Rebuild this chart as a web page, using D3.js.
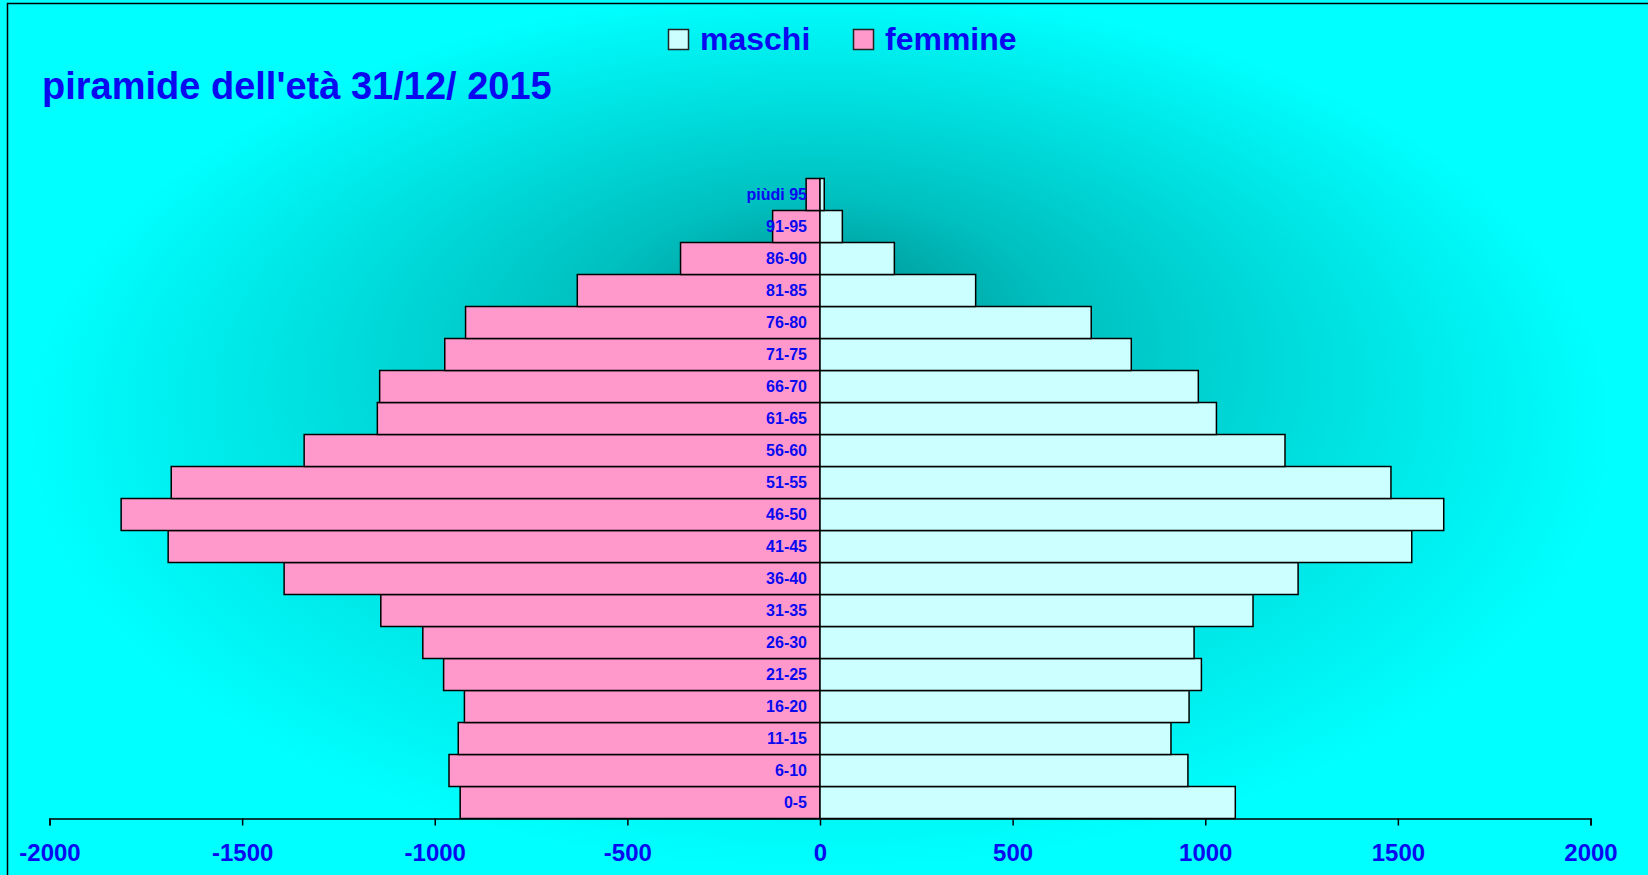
<!DOCTYPE html>
<html>
<head>
<meta charset="utf-8">
<script src="https://cdn.jsdelivr.net/npm/d3@7"></script>
<style>
  html, body { margin: 0; padding: 0; background: #00ffff; }
  svg { display: block; }
</style>
</head>
<body>
<div id="chart"></div>
<script>
// data (age groups bottom to top)
const ageGroups = ["0-5", "6-10", "11-15", "16-20", "21-25", "26-30", "31-35", "36-40",
  "41-45", "46-50", "51-55", "56-60", "61-65", "66-70", "71-75", "76-80",
  "81-85", "86-90", "91-95", "piùdi 95"];
const males = [1078, 955, 911, 958, 990, 971, 1124, 1241, 1536, 1619,
  1482, 1207, 1029, 982, 808, 704, 404, 193, 58, 11];
const females = [934, 963, 939, 923, 977, 1031, 1140, 1391, 1692, 1814,
  1684, 1339, 1149, 1143, 974, 920, 630, 362, 123, 36];
const xTicks = [-2000, -1500, -1000, -500, 0, 500, 1000, 1500, 2000];
const seriesNames = ["maschi", "femmine"];

// layout
const W = 1648, H = 875;
const PLOT = { left: 49.5, right: 1590.5, top: 178.5, bottom: 818.5 };
const BLUE = "#0a0af0";
const FONT = "'Liberation Sans', Arial, sans-serif";
const COLORS = { maschi: "#ccffff", femmine: "#ff99cc" };

const svg = d3.select("#chart").append("svg")
  .attr("width", W).attr("height", H);

// background gradient, dark teal around the top of the pyramid
const defs = svg.append("defs");
const grad = defs.append("radialGradient")
  .attr("id", "bg")
  .attr("gradientUnits", "userSpaceOnUse")
  .attr("cx", 820).attr("cy", 430).attr("r", 440)
  .attr("fx", 820).attr("fy", 285)
  .attr("gradientTransform", "translate(820,430) scale(1.8,1) translate(-820,-430)");
grad.append("stop").attr("offset", 0).attr("stop-color", "#009595");
grad.append("stop").attr("offset", 0.3).attr("stop-color", "#00c0c0");
grad.append("stop").attr("offset", 0.68).attr("stop-color", "#00e3e3");
grad.append("stop").attr("offset", 1).attr("stop-color", "#00ffff");

svg.append("rect").attr("width", W).attr("height", H).attr("fill", "#00ffff");
svg.append("rect").attr("width", W).attr("height", H).attr("fill", "url(#bg)");

// chart frame
svg.append("rect")
  .attr("x", 7.5).attr("y", 3.5)
  .attr("width", W + 20).attr("height", H + 20)
  .attr("fill", "none").attr("stroke", "#000").attr("stroke-width", 1.5);

// scales
const x = d3.scaleLinear().domain([-2000, 2000]).range([PLOT.left, PLOT.right]);
const y = d3.scaleBand().domain(ageGroups).range([PLOT.bottom, PLOT.top]).padding(0);

// bars
const rows = ageGroups.map((g, i) => ({ g, m: males[i], f: females[i] }));

svg.append("g").selectAll("rect")
  .data(rows)
  .join("rect")
  .attr("x", (d) => x(-d.f))
  .attr("y", (d) => y(d.g))
  .attr("width", (d) => x(0) - x(-d.f))
  .attr("height", y.bandwidth())
  .attr("fill", COLORS.femmine)
  .attr("stroke", "#000").attr("stroke-width", 1.5);

svg.append("g").selectAll("rect")
  .data(rows)
  .join("rect")
  .attr("x", x(0))
  .attr("y", (d) => y(d.g))
  .attr("width", (d) => x(d.m) - x(0))
  .attr("height", y.bandwidth())
  .attr("fill", COLORS.maschi)
  .attr("stroke", "#000").attr("stroke-width", 1.5);

// category labels, right aligned just left of zero
svg.append("g").selectAll("text")
  .data(ageGroups)
  .join("text")
  .attr("x", x(0) - 13)
  .attr("y", (d) => y(d) + y.bandwidth() / 2)
  .attr("dy", "0.36em")
  .attr("text-anchor", "end")
  .attr("font-family", FONT).attr("font-weight", "bold").attr("font-size", 16)
  .attr("fill", BLUE)
  .text((d) => d);

// x axis
const axis = svg.append("g")
  .attr("transform", `translate(0,${PLOT.bottom})`)
  .call(d3.axisBottom(x).tickValues(xTicks).tickSize(7).tickSizeOuter(7).tickPadding(18));
axis.select(".domain").attr("stroke", "#000").attr("stroke-width", 1.5);
axis.selectAll(".tick line").attr("stroke", "#000").attr("stroke-width", 1.5);
axis.selectAll(".tick text")
  .attr("font-family", FONT).attr("font-weight", "bold").attr("font-size", 24)
  .attr("fill", BLUE)
  .text((d) => String(d).replace("−", "-"));

// title
svg.append("text")
  .attr("x", 42).attr("y", 99)
  .attr("font-family", FONT).attr("font-weight", "bold").attr("font-size", 38)
  .attr("fill", BLUE)
  .text("piramide dell'età 31/12/ 2015");

// legend
const legendX = [668.5, 853.5];
const legend = svg.append("g").selectAll("g")
  .data(seriesNames)
  .join("g")
  .attr("transform", (d, i) => `translate(${legendX[i]},29.5)`);
legend.append("rect")
  .attr("width", 20).attr("height", 20)
  .attr("fill", (d) => COLORS[d])
  .attr("stroke", "#222").attr("stroke-width", 1.5);
legend.append("text")
  .attr("x", 31.5).attr("y", 20)
  .attr("font-family", FONT).attr("font-weight", "bold").attr("font-size", 32)
  .attr("fill", BLUE)
  .text((d) => d);
</script>
</body>
</html>
